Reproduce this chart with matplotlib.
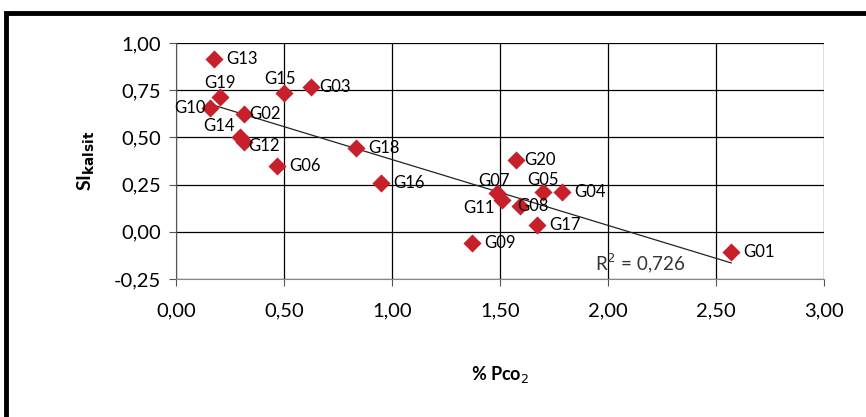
import numpy as np
import matplotlib.pyplot as plt
from matplotlib.patches import Rectangle
from matplotlib.ticker import FuncFormatter

# Data
names = ['G01', 'G02', 'G03', 'G04', 'G05', 'G06', 'G07', 'G08', 'G09', 'G10',
         'G11', 'G12', 'G13', 'G14', 'G15', 'G16', 'G17', 'G18', 'G19', 'G20']
pco2 = [2.57, 0.315, 0.625, 1.786, 1.70, 0.468, 1.485, 1.593, 1.369, 0.157,
        1.508, 0.315, 0.176, 0.296, 0.50, 0.949, 1.67, 0.833, 0.204, 1.576]
si_kalsit = [-0.106, 0.624, 0.767, 0.212, 0.21, 0.348, 0.205, 0.136, -0.061, 0.656,
             0.168, 0.475, 0.915, 0.50, 0.735, 0.258, 0.036, 0.444, 0.714, 0.38]
r2_text = 'R$^2$ = 0,726'

# label offsets in points (dx, dy, ha)
offsets = {
    'G19': (0, 10, 'center'), 'G10': (-3, 0, 'right'), 'G14': (-4, 8, 'right'),
    'G15': (-3, 10, 'center'), 'G07': (-2, 9, 'center'), 'G05': (0, 9, 'center'),
    'G11': (-5, -6, 'right'), 'G08': (-2, 0, 'left'), 'G12': (3, -3, 'left'),
    'G02': (4, 0, 'left'), 'G20': (6, 0, 'left'), 'G03': (6, 0, 'left'),
}

plt.rcParams['font.family'] = ['Lato', 'DejaVu Sans']

fig = plt.figure(figsize=(8.66, 4.17), dpi=100)
ax = fig.add_axes([0.2032, 0.331, 0.7483, 0.566])

# outer frame
fig.patches.append(Rectangle((0.007, -0.05), 1.1, 1.018, transform=fig.transFigure,
                             fill=False, edgecolor='black', linewidth=3.5))

x = np.array(pco2)
y = np.array(si_kalsit)
coef = np.polyfit(x, y, 1)
xl = np.array([x.min(), x.max()])
ax.plot(xl, np.polyval(coef, xl), color='#222222', lw=0.9, zorder=2)

ax.scatter(x, y, marker='D', s=85, color='#C8202A', zorder=3, linewidths=0)

for n, xi, yi in zip(names, x, y):
    dx, dy, ha = offsets.get(n, (9, 0, 'left'))
    ax.annotate(n, (xi, yi), xytext=(dx, dy), textcoords='offset points',
                ha=ha, va='center', fontsize=12, color='black', zorder=4)

ax.text(1.94, -0.165, r2_text, fontsize=13.5, color='#333333', va='center', ha='left')

ax.set_xlim(0, 3)
ax.set_ylim(-0.25, 1.0)
ax.set_xticks(np.arange(0, 3.01, 0.5))
ax.set_yticks(np.arange(-0.25, 1.01, 0.25))
fmt = FuncFormatter(lambda v, p: f'{v:.2f}'.replace('.', ','))
ax.xaxis.set_major_formatter(fmt)
ax.yaxis.set_major_formatter(fmt)
ax.grid(True, color='black', lw=0.9)
ax.set_axisbelow(True)
for s in ['top', 'right']:
    ax.spines[s].set_visible(False)
ax.spines['left'].set_color('#555555')
ax.spines['bottom'].set_color('#888888')
ax.tick_params(direction='out', length=5, color='#555555', labelsize=14.5, pad=6)
ax.tick_params(axis='x', pad=12)

ax.set_xlabel('% Pco$_2$', fontsize=13, fontweight='bold', labelpad=32)
ax.set_ylabel('SI$_{\\mathbf{kalsit}}$', fontsize=14, fontweight='bold', labelpad=12)

fig.savefig('out.png', dpi=100)
